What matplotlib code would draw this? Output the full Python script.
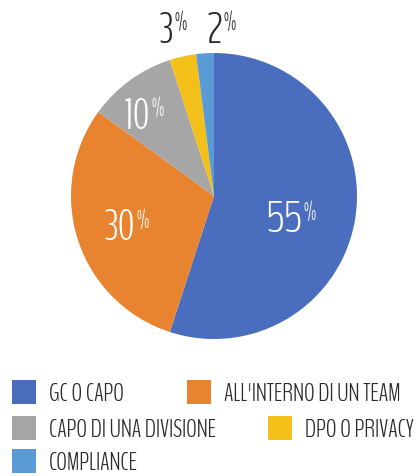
import matplotlib
matplotlib.use("Agg")
from matplotlib import pyplot as plt
from matplotlib.patches import Rectangle

categories = ["GC O CAPO", "ALL'INTERNO DI UN TEAM", "CAPO DI UNA DIVISIONE",
              "DPO O PRIVACY", "COMPLIANCE"]
values = [55, 30, 10, 3, 2]
colors = ["#4a6ebd", "#e8832f", "#a6a6a6", "#f3c01a", "#5b9bd5"]

FONT = ["BenchNine", "DejaVu Sans"]
W, H = 418, 476

fig = plt.figure(figsize=(W / 100, H / 100), dpi=100)
fig.patch.set_facecolor("white")

# pie: centre (214, 196) px, radius 143 px
cx, cy, r = 214, 196, 143
ax = fig.add_axes([(cx - r) / W, 1 - (cy + r) / H, 2 * r / W, 2 * r / H])
ax.pie(values, colors=colors, startangle=90, counterclock=False,
       wedgeprops=dict(linewidth=0))
ax.set_xlim(-1, 1)
ax.set_ylim(-1, 1)
ax.set_aspect("auto")
ax.axis("off")

# right edge / baseline of each number, radius = 1
label_pos = [(0.615, -0.252), (-0.552, -0.308), (-0.448, 0.469), (-0.287, 1.07), (0.056, 1.07)]
for i, (v, (lx, ly)) in enumerate(zip(values, label_pos)):
    col = "white" if i < 3 else "#2a2a2a"
    ax.annotate(str(v), (lx, ly), ha="right", va="baseline", fontsize=31,
                fontweight=300, color=col, family=FONT, annotation_clip=False)
    ax.annotate("%", (lx, ly), xytext=(1, 9), textcoords="offset points",
                ha="left", va="baseline", fontsize=18, fontweight=300,
                color=col, family=FONT, annotation_clip=False)

# legend, laid out like the flowing rows of the original
slots = [(12, 392), (187, 392), (12, 428), (268, 428), (12, 461)]
for (x, y), label, col in zip(slots, categories, colors):
    fig.patches.append(Rectangle((x / W, 1 - (y + 12) / H), 24 / W, 24 / H,
                                 transform=fig.transFigure, facecolor=col,
                                 edgecolor="none"))
    fig.text((x + 37) / W, 1 - (y + 9) / H, label, ha="left", va="baseline",
             fontsize=18, fontweight=300, color="#2a2a2a", family=FONT)

fig.savefig("out.png", dpi=100)
